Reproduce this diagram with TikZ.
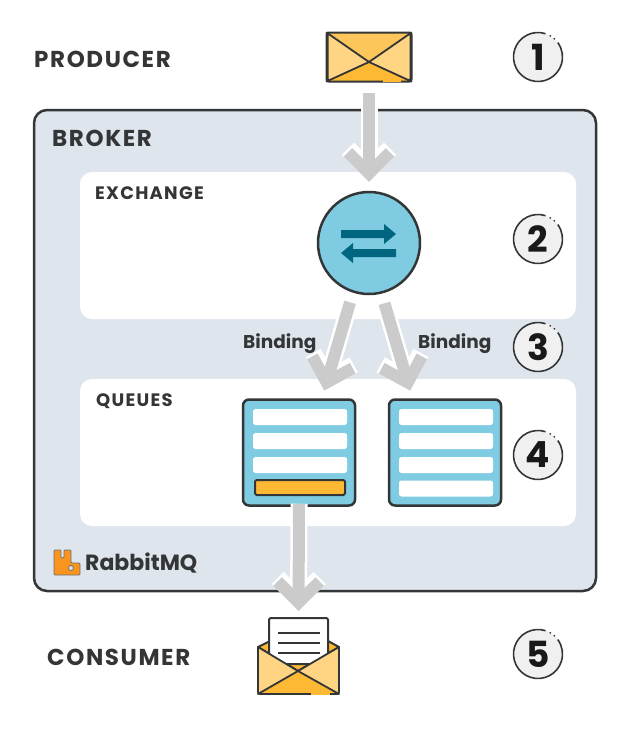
\documentclass[tikz,border=0pt]{standalone}
\usepackage{fontspec}
\setmainfont{Poppins}
\newfontfamily\labelfont[LetterSpace=7]{Poppins}
\usetikzlibrary{arrows.meta, positioning}

\definecolor{inkdark}{HTML}{333536}
\definecolor{brokerbg}{HTML}{DEE5ED}
\definecolor{skyblue}{HTML}{7FCCE2}
\definecolor{tealdark}{HTML}{00667F}
\definecolor{flowgray}{HTML}{CBCBCB}
\definecolor{mailpale}{HTML}{FFD583}
\definecolor{mailmid}{HTML}{FCC65B}
\definecolor{maildeep}{HTML}{FDB933}
\definecolor{rabbitorange}{HTML}{F9951E}

\begin{document}
\begin{tikzpicture}[x=1pt, y=-1pt, on grid,
    broker/.style={rectangle, rounded corners=13pt, draw=inkdark, line width=2.5pt, fill=brokerbg, minimum width=562pt, minimum height=481pt},
    panel/.style={rectangle, rounded corners=12pt, fill=white, minimum width=496pt, minimum height=147pt},
    queue/.style={rectangle, rounded corners=6pt, draw=inkdark, line width=2.5pt, fill=skyblue, minimum width=112pt, minimum height=106pt},
    slot/.style={rectangle, rounded corners=2.5pt, fill=white, minimum width=94pt, minimum height=16pt, inner sep=0pt},
    badge/.style={circle, fill=black!6, minimum size=49pt, inner sep=0pt, outer sep=0pt, font=\fontsize{36}{36}\selectfont\bfseries, text=black!90},
    ring/.style={draw=inkdark, line width=1.6pt},
    heading/.style={anchor=west, inner sep=0pt, text=inkdark, font=\labelfont\fontsize{23}{26}\selectfont\bfseries},
    subheading/.style={anchor=west, inner sep=0pt, text=inkdark, font=\labelfont\fontsize{18}{22}\selectfont\bfseries},
    bindlabel/.style={anchor=west, inner sep=0pt, text=inkdark, font=\fontsize{18.5}{22}\selectfont\bfseries},
    flow/.style={draw=flowgray, line width=12pt, -{Straight Barb[length=21pt, width=42pt]},
        preaction={draw=white, line width=17pt, -{Straight Barb[length=21pt, width=42pt]}}},
    mail/.style={rectangle, rounded corners=2pt, draw=inkdark, line width=2pt, fill=mailpale, inner sep=0pt},
    crease/.style={draw=inkdark, line width=1.8pt, line cap=round}]

    \useasboundingbox (0,0) rectangle (632,740);

    % broker frame and its two white panels
    \node[broker] (Broker) at (315,350.5) {};
    \node[panel] (ExchangePanel) at (328,245.5) {};
    \node[panel, below=207pt of ExchangePanel] (QueuePanel) {};

    % labels
    \node[heading] (Producer) at (34,59) {PRODUCER};
    \node[heading] (BrokerLabel) at (52,138.5) {BROKER};
    \node[heading] (Consumer) at (47,657) {CONSUMER};
    \node[subheading] (ExchangeLabel) at (95,193.5) {EXCHANGE};
    \node[subheading] (QueuesLabel) at (96,401) {QUEUES};
    \node[bindlabel] (BindingA) at (243,344) {Binding};
    \node[bindlabel] (BindingB) at (418,344) {Binding};

    % numbered steps
    \node[badge] (N1) at (538,57) {1};
    \node[badge, below=182pt of N1] (N2) {2};
    \node[badge, below=108pt of N2] (N3) {3};
    \node[badge, below=108pt of N3] (N4) {4};
    \node[badge, below=199pt of N4] (N5) {5};
    \foreach \n in {N1,N2,N3,N4,N5} {
        \draw[ring] (\n.72) arc[start angle=72, end angle=396, radius=24.5pt];
        \fill[inkdark] (\n.60) circle[radius=1pt];
        \fill[inkdark] (\n.48) circle[radius=1pt];
    }

    % producer envelope
    \node[mail, minimum width=83pt, minimum height=47pt] (MailTop) at (369,57) {};
    \fill[mailmid] (MailTop.north west) -- (369,62) -- (MailTop.north east) -- cycle;
    \fill[maildeep] (MailTop.south west) -- (369,62) -- (MailTop.south east) -- cycle;
    \draw[crease] (MailTop.north west) -- (369,62) -- (MailTop.south east);
    \draw[crease] (MailTop.north east) -- (369,62) -- (MailTop.south west);
    \draw[inkdark, line width=2pt, rounded corners=2pt] (MailTop.north west) rectangle (MailTop.south east);
    \draw[maildeep, line width=2pt] (383,80.5) -- (401,80.5);

    % exchange
    \node[circle, draw=inkdark, line width=2.5pt, fill=skyblue, minimum size=102pt, inner sep=0pt] (Exchange) at (369,243) {};
    \fill[tealdark] (341,230) -- (384,230) -- (384,224) -- (396,234) -- (384,244) -- (384,238) -- (341,238) -- cycle;
    \fill[tealdark] (396,249) -- (353,249) -- (353,243) -- (341,253) -- (353,263) -- (353,257) -- (396,257) -- cycle;

    % queues
    \node[queue] (QueueA) at (299,452.5) {};
    \node[queue, right=146pt of QueueA] (QueueB) {};
    \foreach \rowy in {417,441,465} {
        \node[slot] at (300,\rowy) {};
    }
    \foreach \rowy in {417,441,465,488.5} {
        \node[slot] at (446,\rowy) {};
    }
    \node[rectangle, rounded corners=1.5pt, draw=inkdark, line width=2pt, fill=maildeep, minimum width=90pt, minimum height=15pt, inner sep=0pt] (Ready) at (300,487.5) {};

    % consumer envelope with its letter
    \fill[maildeep, draw=inkdark, line width=2pt, line join=round] (258,647) -- (270,641) -- (328,641) -- (339,647) -- (298,671) -- cycle;
    \node[rectangle, rounded corners=2pt, draw=inkdark, line width=2pt, fill=white, minimum width=59pt, minimum height=46pt, inner sep=0pt] (Letter) at (298.5,641) {};
    \foreach \liney in {633,643,653} {
        \draw[inkdark, line width=1.6pt] (278,\liney) -- (320,\liney);
    }
    \fill[mailpale, rounded corners=2pt] (258,647) -- (298,671) -- (339,647) -- (339,694) -- (258,694) -- cycle;
    \fill[maildeep] (258,694) -- (298,671) -- (339,694) -- cycle;
    \draw[crease, line join=round, rounded corners=2pt] (258,647) -- (258,694) -- (339,694) -- (339,647);
    \draw[crease] (258,647) -- (298,671) -- (339,694);
    \draw[crease] (339,647) -- (298,671) -- (258,694);
    \draw[maildeep, line width=2pt] (311,694) -- (330,694);

    % grey flow arrows
    \draw[flow, shorten <=11pt, shorten >=9pt] (MailTop) -- (Exchange);
    \draw[flow, shorten <=10pt, shorten >=8pt] (Exchange.-108) -- (QueueA.67);
    \draw[flow, shorten <=10pt, shorten >=8pt] (Exchange.-76) -- (QueueB.121);
    \draw[flow, shorten <=-3pt, shorten >=6pt] (QueueA.south) -- (Letter.north);

    % logo
    \fill[rabbitorange, draw=inkdark!70, line width=.8pt, rounded corners=1pt, even odd rule]
        (54,550) -- (61,550) -- (61,558) -- (64,558) -- (64,550) -- (71,550) -- (71,563) -- (80,563) -- (80,575) -- (54,575) -- cycle
        (71,568) circle[radius=2.5pt];
    \node[anchor=west, inner sep=0pt, text=inkdark, font=\fontsize{22}{26}\selectfont\bfseries] (RabbitLabel) at (85,563.5) {RabbitMQ};
\end{tikzpicture}
\end{document}
